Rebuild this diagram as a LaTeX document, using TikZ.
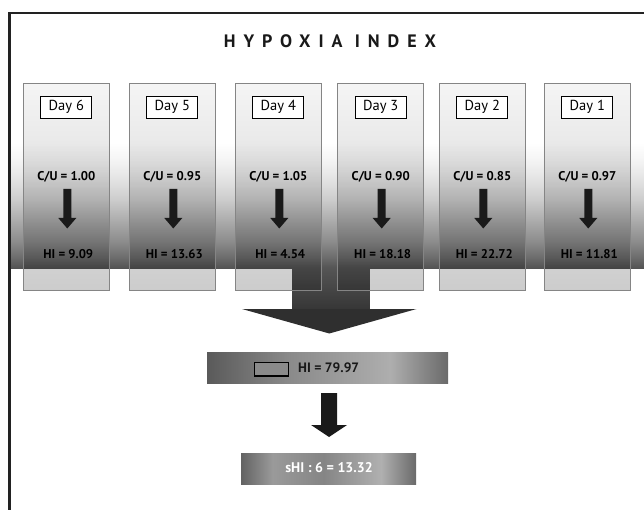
\documentclass[tikz,border=0pt]{standalone}
\usepackage{fontspec}
\setmainfont{PT Sans}
\usetikzlibrary{fadings}
\definecolor{framec}{HTML}{222222}
\definecolor{bandA}{HTML}{525252}
\definecolor{bandB}{HTML}{707070}
\definecolor{bandC}{HTML}{8E8E8E}
\definecolor{bandD}{HTML}{ADADAD}
\definecolor{bandE}{HTML}{CDCDCD}
\definecolor{bandF}{HTML}{E4E4E4}
\definecolor{bandG}{HTML}{F6F6F6}
\definecolor{stemtop}{HTML}{555555}
\definecolor{stembot}{HTML}{363636}
\definecolor{headc}{HTML}{2F2F2F}
\definecolor{arrowc}{HTML}{1A1A1A}
\definecolor{colline}{HTML}{858585}
\definecolor{hA}{HTML}{5A5A5A}
\definecolor{hB}{HTML}{8A8A8A}
\definecolor{hC}{HTML}{AEAEAE}
\definecolor{hD}{HTML}{6A6A6A}
\definecolor{sA}{HTML}{636363}
\definecolor{sB}{HTML}{9A9A9A}
\definecolor{sC}{HTML}{858585}
\definecolor{sD}{HTML}{B0B0B0}
\definecolor{sE}{HTML}{6A6A6A}
\definecolor{smallc}{HTML}{8A8A8A}
\pgfdeclareverticalshading{bandshade}{100bp}{color(0bp)=(bandA); color(25bp)=(bandA); color(30bp)=(bandB); color(36bp)=(bandC); color(44bp)=(bandD); color(52bp)=(bandE); color(60bp)=(bandF); color(68bp)=(bandG); color(74bp)=(white); color(100bp)=(white)}
\pgfdeclarehorizontalshading{hishade}{100bp}{color(0bp)=(hA); color(25bp)=(hA); color(42bp)=(hB); color(63bp)=(hC); color(75bp)=(hD); color(100bp)=(hD)}
\pgfdeclarehorizontalshading{shishade}{100bp}{color(0bp)=(sA); color(25bp)=(sA); color(34bp)=(sB); color(48.5bp)=(sC); color(65bp)=(sD); color(75bp)=(sE); color(100bp)=(sE)}
\tikzfading[name=colfade, top color=transparent!96, bottom color=transparent!80]
\tikzset{
  colfill/.style={inner sep=0pt, outer sep=0pt, minimum width=86pt, minimum height=207.4pt, anchor=north west},
  daybox/.style={draw=black, line width=0.7pt, fill=white, inner sep=0pt, minimum width=51pt, minimum height=22pt, font=\fontsize{14.5}{16}\selectfont},
  cutext/.style={inner sep=0pt, font=\bfseries\fontsize{12.7}{14}\selectfont, text=black},
  blockarrow/.style={fill=arrowc},
}
\begin{document}
\begin{tikzpicture}[x=1pt,y=-1pt]
\useasboundingbox (0,0) rectangle (644,510);
% background band, stem and head of the big arrow
\shade[shading=bandshade] (11,140) rectangle (644,268.5);
\shade[top color=stemtop, bottom color=stembot] (292,268) rectangle (369.5,309.5);
\fill[headc] (242,309) -- (416.5,309) -- (329.3,333.5) -- cycle;
% frame
\draw[framec, line width=2.6pt] (9.5,515) -- (9.5,13) -- (650,13);
% title
\node[font=\bfseries\fontsize{18}{21}\selectfont, text=black!90, inner sep=0pt] (title) at (330,41) {\addfontfeatures{LetterSpace=44}HYPOXIA INDEX};
% columns
\foreach \i/\lx/\d/\cu/\hi in {1/23.3/6/1.00/9.09, 2/129.3/5/0.95/13.63, 3/235.3/4/1.05/4.54, 4/337.7/3/0.90/18.18, 5/439.3/2/0.85/22.72, 6/544.3/1/0.97/11.81}{
  \node[colfill] (col\i) at (\lx,83.3) {};
  \fill[black, path fading=colfade] (col\i.north west) rectangle (col\i.south east);
  \draw[colline, line width=0.8pt] (col\i.north west) rectangle (col\i.south east);
  \node[daybox] (day\i) at ([yshift=-24pt]col\i.north) {Day \d};
  \node[cutext] (cu\i) at ([yshift=-93.2pt]col\i.north) {C/U = \cu};
  \node[cutext] (hi\i) at ([xshift=2pt,yshift=-170.7pt]col\i.north) {HI = \hi};
  \coordinate (ar\i) at ([xshift=1pt,yshift=-105.7pt]col\i.north);
  \fill[blockarrow] ([xshift=-4pt]ar\i) -- ([xshift=4pt]ar\i) -- ([xshift=4pt,yshift=-29pt]ar\i) -- ([xshift=9pt,yshift=-29pt]ar\i) -- ([yshift=-39.5pt]ar\i) -- ([xshift=-9pt,yshift=-29pt]ar\i) -- ([xshift=-4pt,yshift=-29pt]ar\i) -- cycle;
}
% total box
\node[shading=hishade, inner sep=0pt, minimum width=241pt, minimum height=31.5pt, anchor=north west] (hibox) at (207,352) {};
\node[draw=black, line width=1.6pt, fill=smallc, inner sep=0pt, minimum width=34pt, minimum height=13.5pt] (hismall) at (271.3,369.2) {};
\node[anchor=west, inner sep=0pt, font=\bfseries\fontsize{13.6}{15}\selectfont, text=black!90] (hitot) at (298,367.8) {HI = 79.97};
% second arrow
\coordinate (ar7) at (329,393);
\fill[arrowc] ([xshift=-8pt]ar7) -- ([xshift=8pt]ar7) -- ([xshift=8pt,yshift=-32pt]ar7) -- ([xshift=18pt,yshift=-32pt]ar7) -- ([yshift=-44pt]ar7) -- ([xshift=-18pt,yshift=-32pt]ar7) -- ([xshift=-8pt,yshift=-32pt]ar7) -- cycle;
% sHI box
\node[shading=shishade, inner sep=0pt, minimum width=175pt, minimum height=31pt, anchor=north west] (shibox) at (241,453) {};
\node[inner sep=0pt, font=\bfseries\fontsize{14}{16}\selectfont, text=white] (shi) at (329,467.5) {sHI : 6 = 13.32};
\end{tikzpicture}
\end{document}
